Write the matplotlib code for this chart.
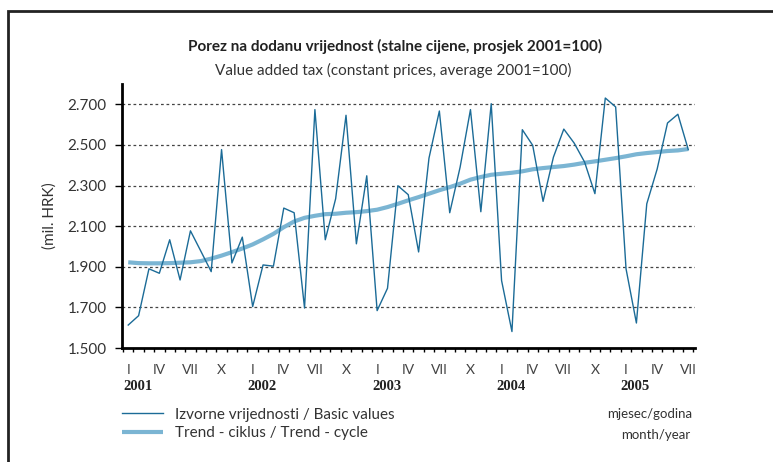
import matplotlib
matplotlib.use('Agg')
import matplotlib.pyplot as plt
import matplotlib.patches as patches
import matplotlib.transforms as mtransforms
from matplotlib.ticker import FuncFormatter

plt.rcParams['font.family'] = ['Lato', 'DejaVu Sans']

# monthly values, I/2001 - VII/2005
basic = [1613, 1659, 1890, 1868, 2033, 1835, 2077, 1977, 1876, 2477, 1919, 2046,
         1704, 1909, 1903, 2189, 2166, 1697, 2674, 2033, 2235, 2646, 2013, 2348,
         1684, 1794, 2299, 2255, 1973, 2435, 2667, 2166, 2390, 2674, 2171, 2703,
         1832, 1581, 2575, 2498, 2222, 2440, 2578, 2509, 2416, 2260, 2731, 2687,
         1890, 1623, 2210, 2381, 2608, 2651, 2477]
trend = [1922, 1918, 1917, 1917, 1918, 1920, 1922, 1928, 1940, 1955, 1972, 1990,
         2010, 2035, 2062, 2095, 2123, 2141, 2151, 2159, 2161, 2166, 2169, 2174,
         2181, 2194, 2210, 2227, 2243, 2260, 2277, 2292, 2309, 2329, 2342, 2353,
         2358, 2363, 2370, 2380, 2386, 2391, 2396, 2403, 2412, 2419, 2427, 2435,
         2444, 2454, 2460, 2465, 2470, 2473, 2480]
month_labels = ['I', 'IV', 'VII', 'X']
years = ['2001', '2002', '2003', '2004', '2005']
y_ticks = [1500, 1700, 1900, 2100, 2300, 2500, 2700]

dark = '#1b6b97'
light = '#7bb5d3'

fig = plt.figure(figsize=(7.73, 4.62), dpi=100)
ax = fig.add_axes([122 / 773, 1 - 348 / 462, (695 - 122) / 773, (348 - 84) / 462])

x = list(range(len(basic)))
ax.plot(x, trend, color=light, lw=3.0, solid_capstyle='butt',
        label='Trend - ciklus / Trend - cycle', zorder=3)
ax.plot(x, basic, color=dark, lw=1.0, label='Izvorne vrijednosti / Basic values', zorder=4)

ax.set_xlim(-0.6, 54.65)
ax.set_ylim(1500, 2800)
ax.set_yticks(y_ticks)
ax.yaxis.set_major_formatter(FuncFormatter(lambda v, p: f"{int(v):,}".replace(',', '.')))
for v in y_ticks[1:]:
    ax.axhline(v, color='#444444', lw=0.9, ls=(0, (2.2, 2.2)), zorder=1)

# month boundary ticks
ax.set_xticks([i - 0.5 for i in range(len(basic) + 1)])
ax.set_xticklabels([])
ax.tick_params(axis='x', direction='out', length=3, width=1, color='black')
ax.tick_params(axis='y', direction='out', length=5, width=1, labelsize=11,
               labelcolor='#333333', pad=6)

for s in ['top', 'right']:
    ax.spines[s].set_visible(False)
for s in ['left', 'bottom']:
    ax.spines[s].set_linewidth(2)

ax.set_ylabel('(mil. HRK)', fontsize=11, color='#333333', labelpad=8)

trans = mtransforms.blended_transform_factory(ax.transData, fig.transFigure)
for i in range(0, len(basic), 3):
    ax.text(i, 1 - 370 / 462, month_labels[(i // 3) % 4], transform=trans,
            ha='center', va='center', fontsize=10, color='#444444')
for k, yr in enumerate(years):
    ax.text(k * 12 - 0.5, 1 - 387 / 462, yr, transform=trans, ha='left', va='center',
            fontsize=10.5, fontweight='bold', family='Liberation Serif', color='#222222')

fig.text(395 / 773, 1 - 46 / 462, 'Porez na dodanu vrijednost (stalne cijene, prosjek 2001=100)',
         ha='center', va='center', fontsize=11, fontweight='bold', color='#222222')
fig.text(393 / 773, 1 - 70 / 462, 'Value added tax (constant prices, average 2001=100)',
         ha='center', va='center', fontsize=11, color='#333333')

handles, labels = ax.get_legend_handles_labels()
fig.legend(handles[::-1], labels[::-1], loc='upper left',
           bbox_to_anchor=(108 / 773, 1 - 394 / 462), frameon=False, fontsize=11,
           handlelength=2.7, handletextpad=0.8, labelspacing=0.3, labelcolor='#333333')

fig.text(692 / 773, 1 - 414 / 462, 'mjesec/godina', ha='right', va='center',
         fontsize=9.5, color='#333333')
fig.text(690 / 773, 1 - 435 / 462, 'month/year', ha='right', va='center',
         fontsize=9.5, color='#333333')

fig.patches.append(patches.Rectangle((8 / 773, -0.1), 2, 1 - 11 / 462 + 0.1, fill=False,
                                     lw=2, edgecolor='#222222', transform=fig.transFigure))

fig.savefig('out.png', dpi=100)
